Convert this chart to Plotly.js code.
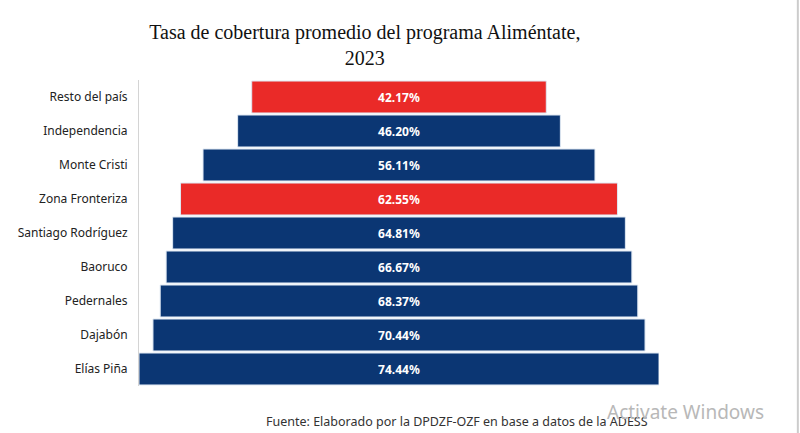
<!DOCTYPE html>
<html>
<head>
<meta charset="utf-8">
<script src="https://cdn.plot.ly/plotly-3.0.1.min.js"></script>
<style>html,body{margin:0;padding:0;background:#fff;}#chart{width:800px;height:433px;}</style>
</head>
<body>
<div id="chart"></div>
<script>
const categories = ["Resto del país", "Independencia", "Monte Cristi", "Zona Fronteriza", "Santiago Rodríguez", "Baoruco", "Pedernales", "Dajabón", "Elías Piña"];
const coverage = [42.17, 46.20, 56.11, 62.55, 64.81, 66.67, 68.37, 70.44, 74.44];
const barColors = ["#ea2a28", "#0b3673", "#0b3673", "#ea2a28", "#0b3673", "#0b3673", "#0b3673", "#0b3673", "#0b3673"];

const maxVal = Math.max(...coverage);

const trace = {
  type: "funnel",
  y: categories,
  x: coverage,
  orientation: "h",
  marker: { color: barColors, line: { color: "#dfe8f3", width: 1 } },
  connector: { visible: false },
  texttemplate: "%{x:.2f}%",
  textposition: "inside",
  insidetextanchor: "middle",
  textfont: { family: "Noto Sans, Open Sans, sans-serif", size: 12, color: "#ffffff", weight: "bold" },
  hoverinfo: "y+x"
};

const layout = {
  width: 800,
  height: 433,
  paper_bgcolor: "#ffffff",
  plot_bgcolor: "#ffffff",
  margin: { l: 139, r: 141, t: 80, b: 47 },
  showlegend: false,
  funnelgap: 0.06,
  title: {
    text: "Tasa de cobertura promedio del programa Aliméntate,<br>2023",
    font: { family: "Liberation Serif, DejaVu Serif, serif", size: 20, color: "#111111" },
    xref: "container", x: 0.456, xanchor: "center",
    yref: "container", y: 0.91, yanchor: "top"
  },
  xaxis: { visible: false, range: [-maxVal / 2, maxVal / 2], fixedrange: true },
  yaxis: {
    autorange: "reversed",
    showline: true, linecolor: "#d4d4d4", linewidth: 1,
    showgrid: false, ticks: "", ticklen: 0,
    tickfont: { family: "Noto Sans, Open Sans, sans-serif", size: 12, color: "#222222" },
    ticklabelstandoff: 8
  },
  annotations: [
    {
      text: "Fuente: Elaborado por la DPDZF-OZF en base a datos de la ADESS",
      xref: "paper", yref: "paper", x: 0.24, y: -0.115, xanchor: "left", yanchor: "middle",
      showarrow: false,
      font: { family: "Noto Sans, Open Sans, sans-serif", size: 12.5, color: "#333333" }
    },
    {
      text: "Activate Windows",
      xref: "paper", yref: "paper", x: 0.897, y: -0.085, xanchor: "left", yanchor: "middle",
      showarrow: false,
      font: { family: "Noto Sans, Open Sans, sans-serif", size: 19, color: "#b8b8b8" }
    }
  ],
  shapes: [
    { type: "line", xref: "paper", yref: "paper", x0: 1.267, x1: 1.267, y0: -0.16, y1: 1.27, line: { color: "#cccccc", width: 2 } }
  ]
};

Plotly.newPlot("chart", [trace], layout, { displayModeBar: false, staticPlot: true });
</script>
</body>
</html>
